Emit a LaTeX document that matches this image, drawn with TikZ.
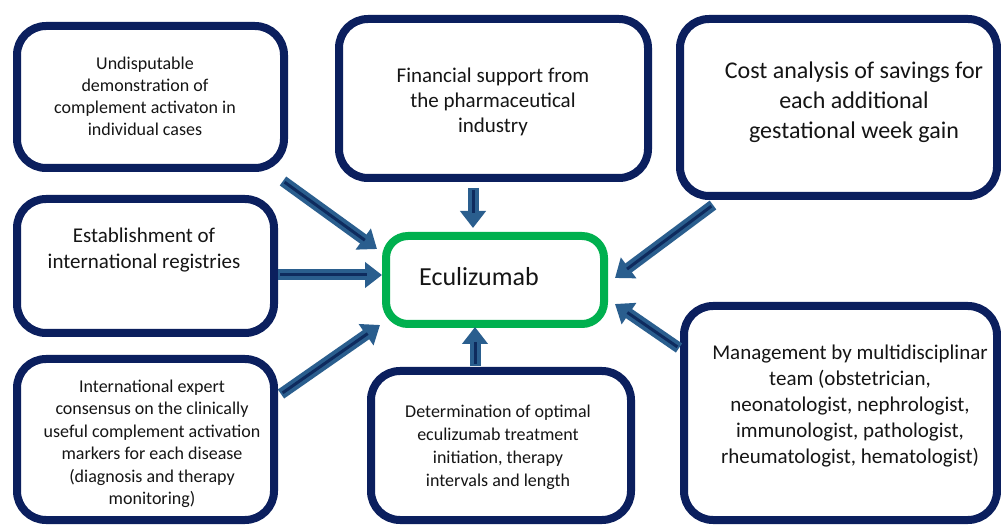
\documentclass[tikz,border=0pt]{standalone}
\usepackage{fontspec}
\setmainfont{Carlito}
\usetikzlibrary{arrows.meta,calc}
\definecolor{navy}{HTML}{0B1F5E}
\definecolor{eg}{HTML}{00B04F}
\definecolor{ashaft}{HTML}{2A5E8E}
\definecolor{acore}{HTML}{0E2B5E}
\definecolor{ink}{HTML}{151515}
\newcommand\flowarrow[2]{%
  \draw[shaft] (#1) -- (#2);
  \draw[core] (#1) -- (#2);}
\begin{document}
\begin{tikzpicture}[x=1pt,y=-1pt,
  box/.style={draw=navy, line width=8pt, rounded corners=29pt, fill=white, inner sep=0pt},
  ecbox/.style={draw=eg, line width=8pt, rounded corners=22pt, fill=white, inner sep=0pt},
  txt/.style={align=center, inner sep=0pt, text=ink},
  shaft/.style={draw=ashaft, line width=11pt, -{Triangle[length=17pt,width=25pt]}},
  core/.style={draw=acore, line width=3pt, shorten >=15pt, shorten <=2pt}]
\useasboundingbox (0,0) rectangle (1001,526);
\fill[white] (0,0) rectangle (1001,526);
% boxes
\node[box, minimum width=267pt, minimum height=142pt] (b1) at (150.5,97) {};
\node[box, minimum width=309pt, minimum height=159pt] (b2) at (493.5,98.5) {};
\node[box, minimum width=317pt, minimum height=177pt] (b3) at (838.5,107.5) {};
\node[box, minimum width=257pt, minimum height=134pt] (b4) at (145.5,266) {};
\node[box, minimum width=257pt, minimum height=161pt] (b5) at (145.5,439.5) {};
\node[box, minimum width=260pt, minimum height=149pt] (b6) at (501,445.5) {};
\node[box, minimum width=313pt, minimum height=214pt] (b7) at (840.5,413) {};
\node[ecbox, minimum width=218pt, minimum height=88pt] (ec) at (495,280) {};
% texts
\node[txt, font=\fontsize{18}{22}\selectfont] (t1) at (145,96)
  {Undisputable\\demonstration of\\complement activaton in\\individual cases};
\node[txt, font=\fontsize{21}{25}\selectfont] (t2) at (493,102)
  {Financial support from\\the pharmaceutical\\industry};
\node[txt, font=\fontsize{24}{30}\selectfont] (t3) at (854,102)
  {Cost analysis of savings for\\each additional\\gestational week gain};
\node[txt, font=\fontsize{21}{26}\selectfont] (t4) at (144,250)
  {Establishment of\\international registries};
\node[txt, font=\fontsize{18}{22.5}\selectfont] (t5) at (152,444)
  {International expert\\consensus on the clinically\\useful complement activation\\markers for each disease\\(diagnosis and therapy\\monitoring)};
\node[txt, font=\fontsize{18}{23}\selectfont] (t6) at (498,447)
  {Determination of optimal\\eculizumab treatment\\initiation, therapy\\intervals and length};
\node[txt, font=\fontsize{21}{26}\selectfont] (t7) at (850,406)
  {Management by multidisciplinar\\team (obstetrician,\\neonatologist, nephrologist,\\immunologist, pathologist,\\rheumatologist, hematologist)};
\node[txt, font=\fontsize{26}{30}\selectfont] (te) at (479,277) {Eculizumab};
% arrow ends
\coordinate (s1) at (283,181);  \coordinate (e1) at (377,249);
\coordinate (s2) at (473,188);  \coordinate (e2) at (473,228);
\coordinate (s3) at (713,205);  \coordinate (e3) at (615,278);
\coordinate (s4) at (278,275);  \coordinate (e4) at (382,275);
\coordinate (s5) at (281,394);  \coordinate (e5) at (380,325);
\coordinate (s6) at (475,366);  \coordinate (e6) at (475,327);
\coordinate (s7) at (679,348);  \coordinate (e7) at (615,304);
\flowarrow{s1}{e1}
\flowarrow{s2}{e2}
\flowarrow{s3}{e3}
\flowarrow{s4}{e4}
\flowarrow{s5}{e5}
\flowarrow{s6}{e6}
\flowarrow{s7}{e7}
\end{tikzpicture}
\end{document}
